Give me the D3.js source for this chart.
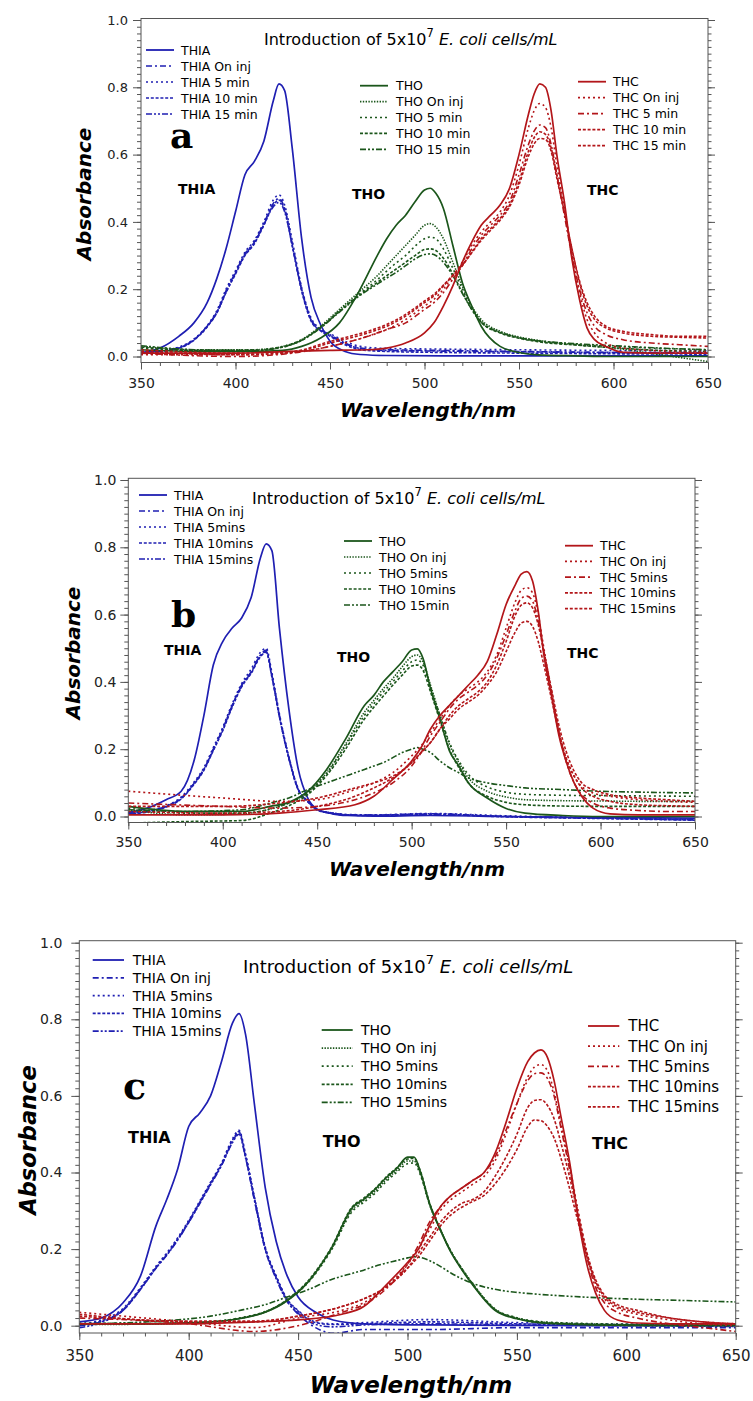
<!DOCTYPE html>
<html>
<head>
<meta charset="utf-8">
<script src="https://cdn.jsdelivr.net/npm/d3@7"></script>
<style>
  body { margin: 0; background: #fff; }
  svg { display: block; }
  text { fill: #000; }
</style>
</head>
<body>
<svg id="chart" width="753" height="1401"></svg>
<script>
// ---- wavelength grids (nm) ----
const wlTHIA = [350, 360, 370, 378, 385, 390, 395, 400, 405, 410, 415, 420, 423, 426, 430, 435, 440, 445, 450, 458, 466, 480, 510, 550, 600, 650];
const wlTHO  = [350, 380, 410, 425, 435, 445, 455, 465, 475, 480, 485, 490, 495, 500, 503, 506, 510, 515, 520, 525, 530, 540, 550, 560, 580, 600, 625, 650];
const wlTHC  = [350, 400, 430, 450, 470, 480, 490, 500, 505, 510, 515, 520, 525, 530, 535, 540, 545, 550, 555, 558, 561, 564, 567, 570, 574, 578, 582, 586, 590, 596, 605, 620, 635, 650];

// ---- absorbance, panel a (rows: initial, on inj, 5, 10, 15 min) ----
const thiaA = [
  [0.010, 0.025, 0.060, 0.100, 0.160, 0.230, 0.320, 0.430, 0.540, 0.580, 0.640, 0.760, 0.810, 0.790, 0.620, 0.350, 0.175, 0.095, 0.045, 0.015, 0.006, 0.003, 0.002, 0.002, 0.002, 0.002],
  [0.012, 0.015, 0.025, 0.050, 0.090, 0.130, 0.195, 0.250, 0.305, 0.340, 0.395, 0.455, 0.470, 0.440, 0.335, 0.200, 0.110, 0.080, 0.065, 0.040, 0.025, 0.020, 0.018, 0.015, 0.012, 0.010],
  [0.015, 0.018, 0.028, 0.052, 0.092, 0.135, 0.200, 0.255, 0.310, 0.345, 0.400, 0.465, 0.480, 0.450, 0.345, 0.205, 0.115, 0.082, 0.068, 0.045, 0.030, 0.024, 0.022, 0.020, 0.018, 0.017],
  [0.010, 0.014, 0.024, 0.048, 0.088, 0.128, 0.190, 0.245, 0.300, 0.335, 0.390, 0.450, 0.465, 0.435, 0.330, 0.195, 0.105, 0.076, 0.060, 0.035, 0.020, 0.015, 0.012, 0.010, 0.008, 0.007],
  [0.012, 0.016, 0.026, 0.050, 0.090, 0.130, 0.192, 0.248, 0.302, 0.338, 0.392, 0.445, 0.458, 0.430, 0.330, 0.198, 0.108, 0.078, 0.062, 0.038, 0.024, 0.018, 0.016, 0.014, 0.012, 0.012]
];
const thoA = [
  [0.020, 0.015, 0.015, 0.018, 0.030, 0.055, 0.100, 0.190, 0.300, 0.350, 0.390, 0.420, 0.460, 0.495, 0.500, 0.485, 0.440, 0.330, 0.220, 0.150, 0.090, 0.030, 0.012, 0.005, 0.002, 0.000, 0.000, 0.000],
  [0.030, 0.020, 0.020, 0.030, 0.050, 0.090, 0.140, 0.190, 0.240, 0.270, 0.300, 0.330, 0.360, 0.390, 0.395, 0.385, 0.350, 0.280, 0.210, 0.150, 0.110, 0.075, 0.058, 0.048, 0.035, 0.025, 0.005, -0.015],
  [0.025, 0.018, 0.020, 0.030, 0.050, 0.088, 0.136, 0.183, 0.228, 0.254, 0.278, 0.300, 0.328, 0.350, 0.355, 0.350, 0.320, 0.262, 0.200, 0.145, 0.105, 0.072, 0.056, 0.046, 0.036, 0.030, 0.024, 0.020],
  [0.028, 0.018, 0.018, 0.028, 0.048, 0.086, 0.134, 0.180, 0.220, 0.240, 0.260, 0.280, 0.300, 0.318, 0.320, 0.315, 0.292, 0.245, 0.190, 0.140, 0.102, 0.070, 0.054, 0.044, 0.034, 0.026, 0.018, 0.015],
  [0.032, 0.020, 0.018, 0.028, 0.048, 0.085, 0.132, 0.178, 0.215, 0.233, 0.250, 0.270, 0.290, 0.303, 0.305, 0.300, 0.280, 0.240, 0.188, 0.140, 0.102, 0.072, 0.056, 0.047, 0.038, 0.032, 0.025, 0.020]
];
const thcA = [
  [0.010, 0.010, 0.015, 0.018, 0.020, 0.025, 0.040, 0.070, 0.100, 0.150, 0.210, 0.280, 0.340, 0.390, 0.420, 0.450, 0.500, 0.600, 0.720, 0.780, 0.810, 0.800, 0.730, 0.600, 0.460, 0.290, 0.170, 0.085, 0.050, 0.030, 0.012, 0.010, 0.010, 0.010],
  [0.005, 0.005, 0.012, 0.030, 0.060, 0.080, 0.110, 0.150, 0.170, 0.200, 0.240, 0.280, 0.330, 0.370, 0.400, 0.430, 0.480, 0.570, 0.680, 0.730, 0.752, 0.740, 0.680, 0.570, 0.440, 0.300, 0.190, 0.110, 0.070, 0.040, 0.025, 0.018, 0.015, 0.015],
  [0.010, 0.000, 0.010, 0.030, 0.060, 0.080, 0.100, 0.140, 0.160, 0.190, 0.230, 0.270, 0.320, 0.360, 0.390, 0.420, 0.460, 0.540, 0.630, 0.670, 0.688, 0.680, 0.630, 0.540, 0.420, 0.300, 0.200, 0.130, 0.090, 0.065, 0.050, 0.040, 0.035, 0.030],
  [0.015, 0.005, 0.012, 0.040, 0.070, 0.090, 0.120, 0.160, 0.180, 0.210, 0.240, 0.270, 0.310, 0.350, 0.380, 0.410, 0.450, 0.520, 0.610, 0.650, 0.668, 0.660, 0.620, 0.540, 0.430, 0.320, 0.220, 0.150, 0.110, 0.085, 0.070, 0.060, 0.057, 0.055],
  [0.020, 0.010, 0.015, 0.045, 0.075, 0.095, 0.125, 0.165, 0.185, 0.212, 0.242, 0.272, 0.308, 0.345, 0.375, 0.405, 0.445, 0.510, 0.595, 0.632, 0.648, 0.645, 0.610, 0.530, 0.430, 0.320, 0.225, 0.160, 0.120, 0.090, 0.075, 0.065, 0.060, 0.060]
];

// ---- absorbance, panel b ----
const thiaB = [
  [0.012, 0.025, 0.050, 0.075, 0.170, 0.300, 0.450, 0.520, 0.560, 0.590, 0.650, 0.770, 0.810, 0.790, 0.560, 0.320, 0.140, 0.055, 0.022, 0.008, 0.003, 0.001, 0.003, 0.000, -0.003, -0.005],
  [0.010, 0.015, 0.030, 0.055, 0.100, 0.140, 0.200, 0.260, 0.330, 0.390, 0.430, 0.480, 0.495, 0.420, 0.300, 0.175, 0.080, 0.045, 0.020, 0.010, 0.005, 0.004, 0.007, 0.000, -0.005, -0.010],
  [0.012, 0.017, 0.032, 0.058, 0.104, 0.145, 0.205, 0.265, 0.335, 0.395, 0.438, 0.488, 0.500, 0.428, 0.305, 0.178, 0.082, 0.046, 0.021, 0.011, 0.006, 0.005, 0.009, 0.002, -0.004, -0.009],
  [0.008, 0.013, 0.028, 0.052, 0.097, 0.137, 0.196, 0.255, 0.325, 0.385, 0.425, 0.475, 0.488, 0.415, 0.296, 0.172, 0.078, 0.044, 0.019, 0.009, 0.004, 0.003, 0.006, -0.001, -0.006, -0.011],
  [0.010, 0.014, 0.030, 0.054, 0.099, 0.140, 0.198, 0.258, 0.328, 0.388, 0.428, 0.478, 0.490, 0.418, 0.298, 0.174, 0.080, 0.045, 0.020, 0.010, 0.005, 0.004, 0.008, 0.000, -0.005, -0.010]
];
const thoB = [
  [0.030, 0.015, 0.015, 0.030, 0.042, 0.075, 0.140, 0.230, 0.330, 0.360, 0.400, 0.430, 0.460, 0.495, 0.498, 0.470, 0.380, 0.290, 0.195, 0.150, 0.100, 0.055, 0.024, 0.010, 0.003, 0.000, 0.000, 0.000],
  [0.020, 0.005, 0.008, 0.022, 0.040, 0.072, 0.130, 0.215, 0.310, 0.345, 0.380, 0.410, 0.445, 0.475, 0.480, 0.460, 0.390, 0.300, 0.215, 0.160, 0.115, 0.075, 0.058, 0.050, 0.047, 0.046, 0.045, 0.045],
  [0.025, 0.010, 0.010, 0.022, 0.040, 0.070, 0.128, 0.210, 0.300, 0.335, 0.370, 0.400, 0.432, 0.460, 0.465, 0.450, 0.385, 0.300, 0.220, 0.165, 0.125, 0.088, 0.072, 0.066, 0.063, 0.062, 0.061, 0.060],
  [-0.020, -0.015, -0.012, 0.010, 0.032, 0.065, 0.122, 0.200, 0.290, 0.325, 0.358, 0.390, 0.420, 0.447, 0.450, 0.435, 0.370, 0.285, 0.200, 0.145, 0.100, 0.060, 0.042, 0.035, 0.031, 0.030, 0.030, 0.030],
  [0.020, 0.015, 0.020, 0.040, 0.055, 0.080, 0.100, 0.120, 0.140, 0.150, 0.160, 0.175, 0.190, 0.200, 0.205, 0.200, 0.190, 0.165, 0.145, 0.130, 0.115, 0.100, 0.092, 0.085, 0.080, 0.075, 0.072, 0.070]
];
const thcB = [
  [0.005, 0.005, 0.010, 0.020, 0.035, 0.060, 0.110, 0.165, 0.205, 0.260, 0.300, 0.330, 0.360, 0.390, 0.420, 0.460, 0.540, 0.630, 0.690, 0.720, 0.728, 0.700, 0.610, 0.480, 0.360, 0.240, 0.160, 0.100, 0.060, 0.025, 0.008, 0.005, 0.005, 0.005],
  [0.075, 0.055, 0.045, 0.050, 0.080, 0.100, 0.130, 0.180, 0.210, 0.250, 0.290, 0.330, 0.360, 0.380, 0.400, 0.430, 0.480, 0.560, 0.640, 0.672, 0.680, 0.665, 0.600, 0.500, 0.370, 0.250, 0.170, 0.120, 0.090, 0.070, 0.060, 0.050, 0.045, 0.042],
  [0.040, 0.030, 0.025, 0.030, 0.050, 0.070, 0.100, 0.150, 0.190, 0.240, 0.280, 0.320, 0.350, 0.370, 0.390, 0.420, 0.470, 0.540, 0.615, 0.648, 0.655, 0.640, 0.580, 0.490, 0.370, 0.250, 0.160, 0.100, 0.065, 0.040, 0.025, 0.018, 0.015, 0.015],
  [0.030, 0.030, 0.040, 0.055, 0.085, 0.100, 0.120, 0.160, 0.190, 0.220, 0.260, 0.300, 0.330, 0.350, 0.370, 0.400, 0.450, 0.520, 0.600, 0.628, 0.635, 0.620, 0.570, 0.490, 0.380, 0.270, 0.190, 0.135, 0.100, 0.080, 0.065, 0.055, 0.050, 0.045],
  [0.015, 0.010, 0.015, 0.030, 0.060, 0.085, 0.115, 0.160, 0.190, 0.220, 0.260, 0.290, 0.320, 0.340, 0.360, 0.390, 0.430, 0.490, 0.550, 0.575, 0.580, 0.565, 0.520, 0.450, 0.350, 0.250, 0.170, 0.120, 0.085, 0.060, 0.045, 0.035, 0.032, 0.030]
];

// ---- absorbance, panel c ----
const thiaC = [
  [0.010, 0.020, 0.060, 0.130, 0.260, 0.330, 0.410, 0.520, 0.555, 0.600, 0.690, 0.790, 0.815, 0.760, 0.580, 0.360, 0.220, 0.130, 0.075, 0.035, 0.015, 0.005, 0.002, 0.001, 0.000, 0.000],
  [0.000, 0.010, 0.040, 0.095, 0.150, 0.185, 0.225, 0.270, 0.320, 0.370, 0.420, 0.480, 0.505, 0.440, 0.330, 0.200, 0.125, 0.065, 0.030, -0.005, -0.020, -0.010, -0.010, -0.005, -0.005, -0.005],
  [0.005, 0.015, 0.045, 0.100, 0.155, 0.190, 0.230, 0.275, 0.325, 0.375, 0.425, 0.488, 0.510, 0.448, 0.338, 0.205, 0.130, 0.070, 0.040, 0.010, 0.005, 0.008, 0.016, 0.008, 0.004, 0.002],
  [0.003, 0.012, 0.042, 0.097, 0.152, 0.187, 0.227, 0.272, 0.322, 0.372, 0.422, 0.484, 0.507, 0.444, 0.334, 0.203, 0.128, 0.068, 0.038, 0.008, 0.003, 0.005, 0.010, 0.005, 0.002, 0.000],
  [-0.005, 0.008, 0.040, 0.095, 0.150, 0.184, 0.224, 0.269, 0.318, 0.368, 0.418, 0.478, 0.500, 0.438, 0.328, 0.198, 0.122, 0.063, 0.033, 0.003, -0.003, 0.002, 0.005, 0.002, 0.000, -0.002]
];
const thoC = [
  [0.005, 0.005, 0.010, 0.020, 0.035, 0.065, 0.117, 0.200, 0.310, 0.330, 0.355, 0.385, 0.410, 0.440, 0.440, 0.400, 0.320, 0.250, 0.190, 0.145, 0.105, 0.040, 0.018, 0.008, 0.003, 0.001, 0.000, 0.000],
  [0.003, 0.004, 0.010, 0.021, 0.036, 0.066, 0.118, 0.198, 0.305, 0.327, 0.350, 0.380, 0.405, 0.430, 0.430, 0.395, 0.318, 0.250, 0.192, 0.148, 0.108, 0.043, 0.020, 0.010, 0.005, 0.003, 0.002, 0.002],
  [0.006, 0.006, 0.011, 0.022, 0.037, 0.067, 0.115, 0.195, 0.300, 0.322, 0.345, 0.375, 0.400, 0.423, 0.425, 0.392, 0.318, 0.252, 0.193, 0.148, 0.108, 0.044, 0.021, 0.011, 0.006, 0.004, 0.003, 0.003],
  [0.004, 0.005, 0.010, 0.021, 0.036, 0.068, 0.120, 0.202, 0.312, 0.333, 0.357, 0.387, 0.412, 0.435, 0.437, 0.402, 0.322, 0.252, 0.192, 0.146, 0.106, 0.042, 0.019, 0.009, 0.004, 0.002, 0.001, 0.001],
  [0.005, 0.010, 0.025, 0.042, 0.055, 0.075, 0.095, 0.120, 0.137, 0.145, 0.155, 0.163, 0.170, 0.177, 0.180, 0.178, 0.170, 0.155, 0.137, 0.122, 0.110, 0.095, 0.087, 0.082, 0.075, 0.070, 0.066, 0.062]
];
const thcC = [
  [0.005, 0.005, 0.010, 0.015, 0.030, 0.050, 0.105, 0.165, 0.200, 0.260, 0.310, 0.340, 0.360, 0.380, 0.400, 0.450, 0.530, 0.620, 0.690, 0.712, 0.720, 0.700, 0.640, 0.550, 0.430, 0.280, 0.160, 0.085, 0.040, 0.015, 0.007, 0.005, 0.005, 0.005],
  [0.035, 0.010, -0.005, 0.020, 0.040, 0.060, 0.100, 0.160, 0.200, 0.250, 0.300, 0.330, 0.350, 0.370, 0.390, 0.430, 0.500, 0.580, 0.650, 0.675, 0.682, 0.665, 0.610, 0.530, 0.420, 0.300, 0.190, 0.110, 0.070, 0.045, 0.030, 0.015, 0.005, 0.000],
  [0.020, 0.005, -0.015, 0.000, 0.035, 0.055, 0.095, 0.160, 0.210, 0.270, 0.310, 0.340, 0.360, 0.380, 0.400, 0.440, 0.510, 0.580, 0.640, 0.658, 0.660, 0.645, 0.600, 0.520, 0.410, 0.290, 0.180, 0.100, 0.060, 0.035, 0.020, 0.005, -0.005, -0.015],
  [0.030, 0.010, 0.010, 0.025, 0.050, 0.070, 0.100, 0.150, 0.190, 0.230, 0.270, 0.300, 0.320, 0.330, 0.350, 0.390, 0.440, 0.500, 0.570, 0.588, 0.590, 0.575, 0.540, 0.480, 0.390, 0.290, 0.190, 0.120, 0.080, 0.055, 0.040, 0.020, 0.010, 0.005],
  [0.025, 0.012, 0.012, 0.025, 0.050, 0.070, 0.100, 0.150, 0.180, 0.220, 0.260, 0.290, 0.310, 0.325, 0.340, 0.370, 0.410, 0.460, 0.520, 0.537, 0.535, 0.520, 0.490, 0.440, 0.360, 0.270, 0.180, 0.115, 0.075, 0.050, 0.035, 0.020, 0.010, 0.005]
];

// ---- legend labels ----
const legA_THIA = ["THIA", "THIA On inj", "THIA 5 min", "THIA 10 min", "THIA 15 min"];
const legA_THO  = ["THO", "THO On inj", "THO 5 min", "THO 10 min", "THO 15 min"];
const legA_THC  = ["THC", "THC On inj", "THC 5 min", "THC 10 min", "THC 15 min"];
const legB_THIA = ["THIA", "THIA On inj", "THIA 5mins", "THIA 10mins", "THIA 15mins"];
const legB_THO  = ["THO", "THO On inj", "THO 5mins", "THO 10mins", "THO 15min"];
const legB_THC  = ["THC", "THC On inj", "THC 5mins", "THC 10mins", "THC 15mins"];
const legC_THIA = ["THIA", "THIA On inj", "THIA 5mins", "THIA 10mins", "THIA 15mins"];
const legC_THO  = ["THO", "THO On inj", "THO 5mins", "THO 10mins", "THO 15mins"];
const legC_THC  = ["THC", "THC On inj", "THC 5mins", "THC 10mins", "THC 15mins"];

const dyeNames = ["THIA", "THO", "THC"];
const xTicks = [350, 400, 450, 500, 550, 600, 650];
const yTicks = [0, 0.2, 0.4, 0.6, 0.8, 1.0];

// ---- styles ----
const SANS = '"DejaVu Sans", sans-serif';
const SERIF = '"DejaVu Serif", serif';
const dyeColor = ["#1f1fb2", "#1b561b", "#b3161a"];
const dashStyles = [
  [null, "6,3,2,3", "2,3", "3,1.8", "6,2,2,2,2,2"],   // THIA
  [null, "1.4,1.4", "2,3", "3,1.8", "6,2,2,2,2,2"],   // THO
  [null, "2,3", "6,3,2,3", "3,1.8", "3,1.8"]          // THC
];

const panels = [
  { id: "a", l: 141, r: 708, t: 18.5, b: 362.5, y0: 356.5, y1: 20,
    sets: [thiaA, thoA, thcA], legs: [legA_THIA, legA_THO, legA_THC],
    legPos: [{x1: 146, x2: 174, tx: 181, y: 50, dy: 16, fs: 12.5},
             {x1: 360, x2: 388, tx: 396, y: 85.7, dy: 15.9, fs: 12.5},
             {x1: 578, x2: 606, tx: 613, y: 81.7, dy: 16, fs: 12.5}],
    title: {x: 264, y: 45, fs: 16}, letter: {x: 170, y: 148, fs: 36},
    dyePos: [{x: 178, y: 194}, {x: 352, y: 199}, {x: 587, y: 195}], dyeFs: 14,
    yFs: 13, yPad: 5, xFs: 14, xPad: 9,
    xlab: {x: 428, y: 417, fs: 20}, ylab: {x: 91, y: 194, fs: 20} },
  { id: "b", l: 128.3, r: 695, t: 478.3, b: 822.5, y0: 816.5, y1: 480,
    sets: [thiaB, thoB, thcB], legs: [legB_THIA, legB_THO, legB_THC],
    legPos: [{x1: 139, x2: 167, tx: 174, y: 495, dy: 16, fs: 12.5},
             {x1: 344, x2: 372, tx: 379, y: 541, dy: 16, fs: 12.5},
             {x1: 565, x2: 593, tx: 600, y: 545.7, dy: 15.75, fs: 12.5}],
    title: {x: 252, y: 504, fs: 16}, letter: {x: 171, y: 627, fs: 36},
    dyePos: [{x: 164, y: 655}, {x: 337, y: 662}, {x: 567, y: 658}], dyeFs: 14,
    yFs: 14, yPad: 4, xFs: 14, xPad: 8,
    xlab: {x: 417, y: 876, fs: 20}, ylab: {x: 79.5, y: 653, fs: 20} },
  { id: "c", l: 79.3, r: 735.7, t: 940.7, b: 1333, y0: 1325.7, y1: 942.7,
    sets: [thiaC, thoC, thcC], legs: [legC_THIA, legC_THO, legC_THC],
    legPos: [{x1: 92.7, x2: 124, tx: 132.7, y: 960, dy: 17.8, fs: 14},
             {x1: 321.7, x2: 352.7, tx: 361, y: 1030, dy: 18.1, fs: 14},
             {x1: 588, x2: 619.3, tx: 628.3, y: 1026, dy: 20.2, fs: 15}],
    title: {x: 243, y: 972.7, fs: 18}, letter: {x: 123, y: 1099, fs: 38},
    dyePos: [{x: 128, y: 1143}, {x: 322.7, y: 1147}, {x: 592, y: 1149}], dyeFs: 16,
    yFs: 14, yPad: 9, xFs: 15, xPad: 10,
    xlab: {x: 411, y: 1393, fs: 23}, ylab: {x: 36, y: 1140, fs: 22.5} }
];

const svg = d3.select("#chart");
const wlGrids = [wlTHIA, wlTHO, wlTHC];

panels.forEach(p => {
  const g = svg.append("g").attr("class", "panel-" + p.id).style("font-family", SANS);
  const x = d3.scaleLinear().domain([350, 650]).range([p.l, p.r]);
  const y = d3.scaleLinear().domain([0, 1]).range([p.y0, p.y1]);

  const clipId = "clip-" + p.id;
  svg.append("defs").append("clipPath").attr("id", clipId)
    .append("rect").attr("x", p.l).attr("y", p.t)
    .attr("width", p.r - p.l).attr("height", p.b - p.t);

  // spectra
  const line = d3.line().x(d => x(d[0])).y(d => y(d[1])).curve(d3.curveMonotoneX);
  const curves = g.append("g").attr("clip-path", `url(#${clipId})`);
  p.sets.forEach((set, di) => {
    set.forEach((vals, si) => {
      const pts = wlGrids[di].map((w, i) => [w, vals[i]]);
      curves.append("path")
        .attr("d", line(pts))
        .attr("fill", "none")
        .attr("stroke", dyeColor[di])
        .attr("stroke-width", si === 0 ? 1.7 : 1.6)
        .attr("stroke-dasharray", dashStyles[di][si]);
    });
  });

  // frame
  g.append("rect").attr("x", p.l).attr("y", p.t)
    .attr("width", p.r - p.l).attr("height", p.b - p.t)
    .attr("fill", "none").attr("stroke", "#555").attr("stroke-width", 1);

  // axes
  const minorY = d3.range(0, 1.0001, 0.02);
  const minorX = d3.range(350, 651, 10);
  const styleAxis = sel => {
    sel.select(".domain").remove();
    sel.selectAll(".tick line").attr("stroke", "#555");
  };
  const styleLabels = (sel, fs) => sel.selectAll("text")
    .style("font-family", SANS).style("font-size", fs + "px").style("fill", "#222");

  g.append("g").attr("transform", `translate(${p.l},0)`)
    .call(d3.axisLeft(y).tickValues(minorY).tickSize(4).tickFormat(""))
    .call(styleAxis);
  g.append("g").attr("transform", `translate(${p.l},0)`)
    .call(d3.axisLeft(y).tickValues(yTicks).tickSize(8).tickPadding(p.yPad).tickFormat(d3.format(".1f")))
    .call(styleAxis)
    .call(s => styleLabels(s, p.yFs));

  g.append("g").attr("transform", `translate(${p.r},0)`)
    .call(d3.axisRight(y).tickValues(minorY).tickSize(3.5).tickFormat(""))
    .call(styleAxis);
  g.append("g").attr("transform", `translate(${p.r},0)`)
    .call(d3.axisRight(y).tickValues(yTicks).tickSize(7).tickFormat(""))
    .call(styleAxis);

  g.append("g").attr("transform", `translate(0,${p.b})`)
    .call(d3.axisBottom(x).tickValues(minorX).tickSize(3.5).tickFormat(""))
    .call(styleAxis);
  g.append("g").attr("transform", `translate(0,${p.b})`)
    .call(d3.axisBottom(x).tickValues(xTicks).tickSize(7).tickPadding(p.xPad).tickFormat(d3.format("d")))
    .call(styleAxis)
    .call(s => styleLabels(s, p.xFs));

  // axis titles
  g.append("text").attr("x", p.xlab.x).attr("y", p.xlab.y)
    .attr("text-anchor", "middle").style("font-size", p.xlab.fs + "px")
    .style("font-weight", "bold").style("font-style", "italic")
    .text("Wavelength/nm");
  g.append("text")
    .attr("transform", `translate(${p.ylab.x},${p.ylab.y}) rotate(-90)`)
    .attr("text-anchor", "middle").style("font-size", p.ylab.fs + "px")
    .style("font-weight", "bold").style("font-style", "italic")
    .text("Absorbance");

  // title with superscript and italic species name
  const t = g.append("text").attr("x", p.title.x).attr("y", p.title.y)
    .style("font-size", p.title.fs + "px");
  t.append("tspan").text("Introduction of  5x10");
  t.append("tspan").attr("dy", -p.title.fs * 0.5).style("font-size", (p.title.fs * 0.72) + "px").text("7");
  t.append("tspan").attr("dy", p.title.fs * 0.5).style("font-style", "italic").text(" E. coli cells/mL");

  // panel letter
  g.append("text").attr("x", p.letter.x).attr("y", p.letter.y)
    .style("font-family", SERIF).style("font-weight", "bold")
    .style("font-size", p.letter.fs + "px").text(p.id);

  // dye labels next to the bands
  p.dyePos.forEach((d, i) => {
    g.append("text").attr("x", d.x).attr("y", d.y)
      .style("font-weight", "bold").style("font-size", p.dyeFs + "px").text(dyeNames[i]);
  });

  // legends
  p.legs.forEach((labels, di) => {
    const lp = p.legPos[di];
    labels.forEach((lab, si) => {
      const yy = lp.y + si * lp.dy;
      g.append("line").attr("x1", lp.x1).attr("x2", lp.x2).attr("y1", yy).attr("y2", yy)
        .attr("stroke", dyeColor[di]).attr("stroke-width", si === 0 ? 1.8 : 1.7)
        .attr("stroke-dasharray", dashStyles[di][si]);
      g.append("text").attr("x", lp.tx).attr("y", yy).attr("dy", "0.36em")
        .style("font-size", lp.fs + "px").text(lab);
    });
  });
});
</script>
</body>
</html>
